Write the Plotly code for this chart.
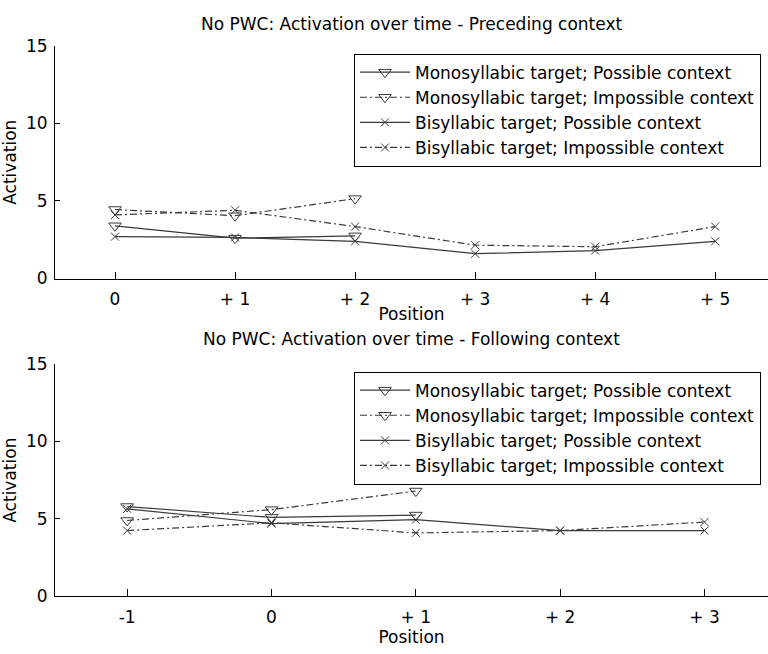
import plotly.graph_objects as go

# ---- data ----
pre_positions = [0, 1, 2, 3, 4, 5]
pre_tick_labels = ["0", "+ 1", "+ 2", "+ 3", "+ 4", "+ 5"]
pre_mono_possible = [3.4, 2.6, 2.75]
pre_mono_impossible = [4.45, 4.05, 5.15]
pre_bi_possible = [2.7, 2.65, 2.4, 1.6, 1.8, 2.4]
pre_bi_impossible = [4.1, 4.4, 3.35, 2.15, 2.05, 3.35]

fol_positions = [-1, 0, 1, 2, 3]
fol_tick_labels = ["-1", "0", "+ 1", "+ 2", "+ 3"]
fol_mono_possible = [5.8, 5.1, 5.25]
fol_mono_impossible = [4.9, 5.6, 6.8]
fol_bi_possible = [5.65, 4.7, 4.95, 4.25, 4.25]
fol_bi_impossible = [4.25, 4.75, 4.1, 4.25, 4.8]

series_names = [
    "Monosyllabic target; Possible context",
    "Monosyllabic target; Impossible context",
    "Bisyllabic target; Possible context",
    "Bisyllabic target; Impossible context",
]

title_top = "No PWC: Activation over time - Preceding context"
title_bottom = "No PWC: Activation over time - Following context"

FONT = "DejaVu Sans, Liberation Sans, Arial, sans-serif"
LINE = "#3a3a3a"
DASHDOT = "7px,3px,2px,3px"

fig = go.Figure()

def add_series(x, y, name, dash, symbol, xa, ya, legend):
    is_tri = symbol.startswith("triangle")
    fig.add_trace(go.Scatter(
        x=x, y=y, name=name, mode="lines+markers",
        xaxis=xa, yaxis=ya, legend=legend,
        line=dict(color=LINE, width=1.2, dash=dash),
        marker=dict(symbol=symbol, size=11 if is_tri else 8,
                    color=LINE, line=dict(color=LINE, width=1)),
    ))

for (xs, mp, mi, bp, bi, xa, ya, lg) in [
    (pre_positions, pre_mono_possible, pre_mono_impossible, pre_bi_possible, pre_bi_impossible, "x", "y", "legend"),
    (fol_positions, fol_mono_possible, fol_mono_impossible, fol_bi_possible, fol_bi_impossible, "x2", "y2", "legend2"),
]:
    add_series(xs[:len(mp)], mp, series_names[0], "solid", "triangle-down-open", xa, ya, lg)
    add_series(xs[:len(mi)], mi, series_names[1], DASHDOT, "triangle-down-open", xa, ya, lg)
    add_series(xs, bp, series_names[2], "solid", "x-thin-open", xa, ya, lg)
    add_series(xs, bi, series_names[3], DASHDOT, "x-thin-open", xa, ya, lg)

W, H = 768, 654
def py(p):
    return 1 - p / H

x_left = 55 / W
axis_common = dict(
    showline=True, linecolor="black", linewidth=1, mirror=False,
    ticks="inside", tickcolor="black", showgrid=False, zeroline=False,
    tickfont=dict(family=FONT, size=17, color="black"),
)

legend_common = dict(
    bgcolor="white", bordercolor="black", borderwidth=1,
    font=dict(family=FONT, size=17, color="black"),
    xanchor="left", yanchor="top", tracegroupgap=0,
    itemwidth=50,
)

fig.update_layout(
    width=W, height=H,
    margin=dict(l=0, r=0, t=0, b=0),
    paper_bgcolor="white", plot_bgcolor="white",
    font=dict(family=FONT, color="black"),
    showlegend=True,
    xaxis=dict(domain=[x_left, 1], range=[-0.5, 5.44], anchor="y",
               tickvals=pre_positions, ticktext=pre_tick_labels, ticklen=7,
               ticklabelstandoff=5,
               title=dict(text="Position", font=dict(family=FONT, size=17), standoff=0),
               **axis_common),
    yaxis=dict(domain=[py(277), py(37)], range=[0, 15], anchor="x",
               tickvals=[0, 5, 10, 15], ticklen=5, ticklabelstandoff=3,
               title=dict(text="Activation", font=dict(family=FONT, size=17), standoff=6),
               **axis_common),
    xaxis2=dict(domain=[x_left, 1], range=[-1.5, 3.44], anchor="y2",
                tickvals=fol_positions, ticktext=fol_tick_labels, ticklen=7,
                ticklabelstandoff=5,
                title=dict(text="Position", font=dict(family=FONT, size=17), standoff=0),
                **axis_common),
    yaxis2=dict(domain=[py(605), py(365)], range=[0, 15], anchor="x2",
                tickvals=[0, 5, 10, 15], ticklen=5, ticklabelstandoff=3,
                title=dict(text="Activation", font=dict(family=FONT, size=17), standoff=6),
                **axis_common),
    legend=dict(x=354 / W, y=py(45), **legend_common),
    legend2=dict(x=354 / W, y=py(373), **legend_common),
    annotations=[
        dict(text=title_top, x=411 / W, y=py(14), xref="paper", yref="paper",
             showarrow=False, xanchor="center", yanchor="middle",
             font=dict(family=FONT, size=17, color="black")),
        dict(text=title_bottom, x=411 / W, y=py(339), xref="paper", yref="paper",
             showarrow=False, xanchor="center", yanchor="middle",
             font=dict(family=FONT, size=17, color="black")),
    ],
)

fig.write_html("out.html")
